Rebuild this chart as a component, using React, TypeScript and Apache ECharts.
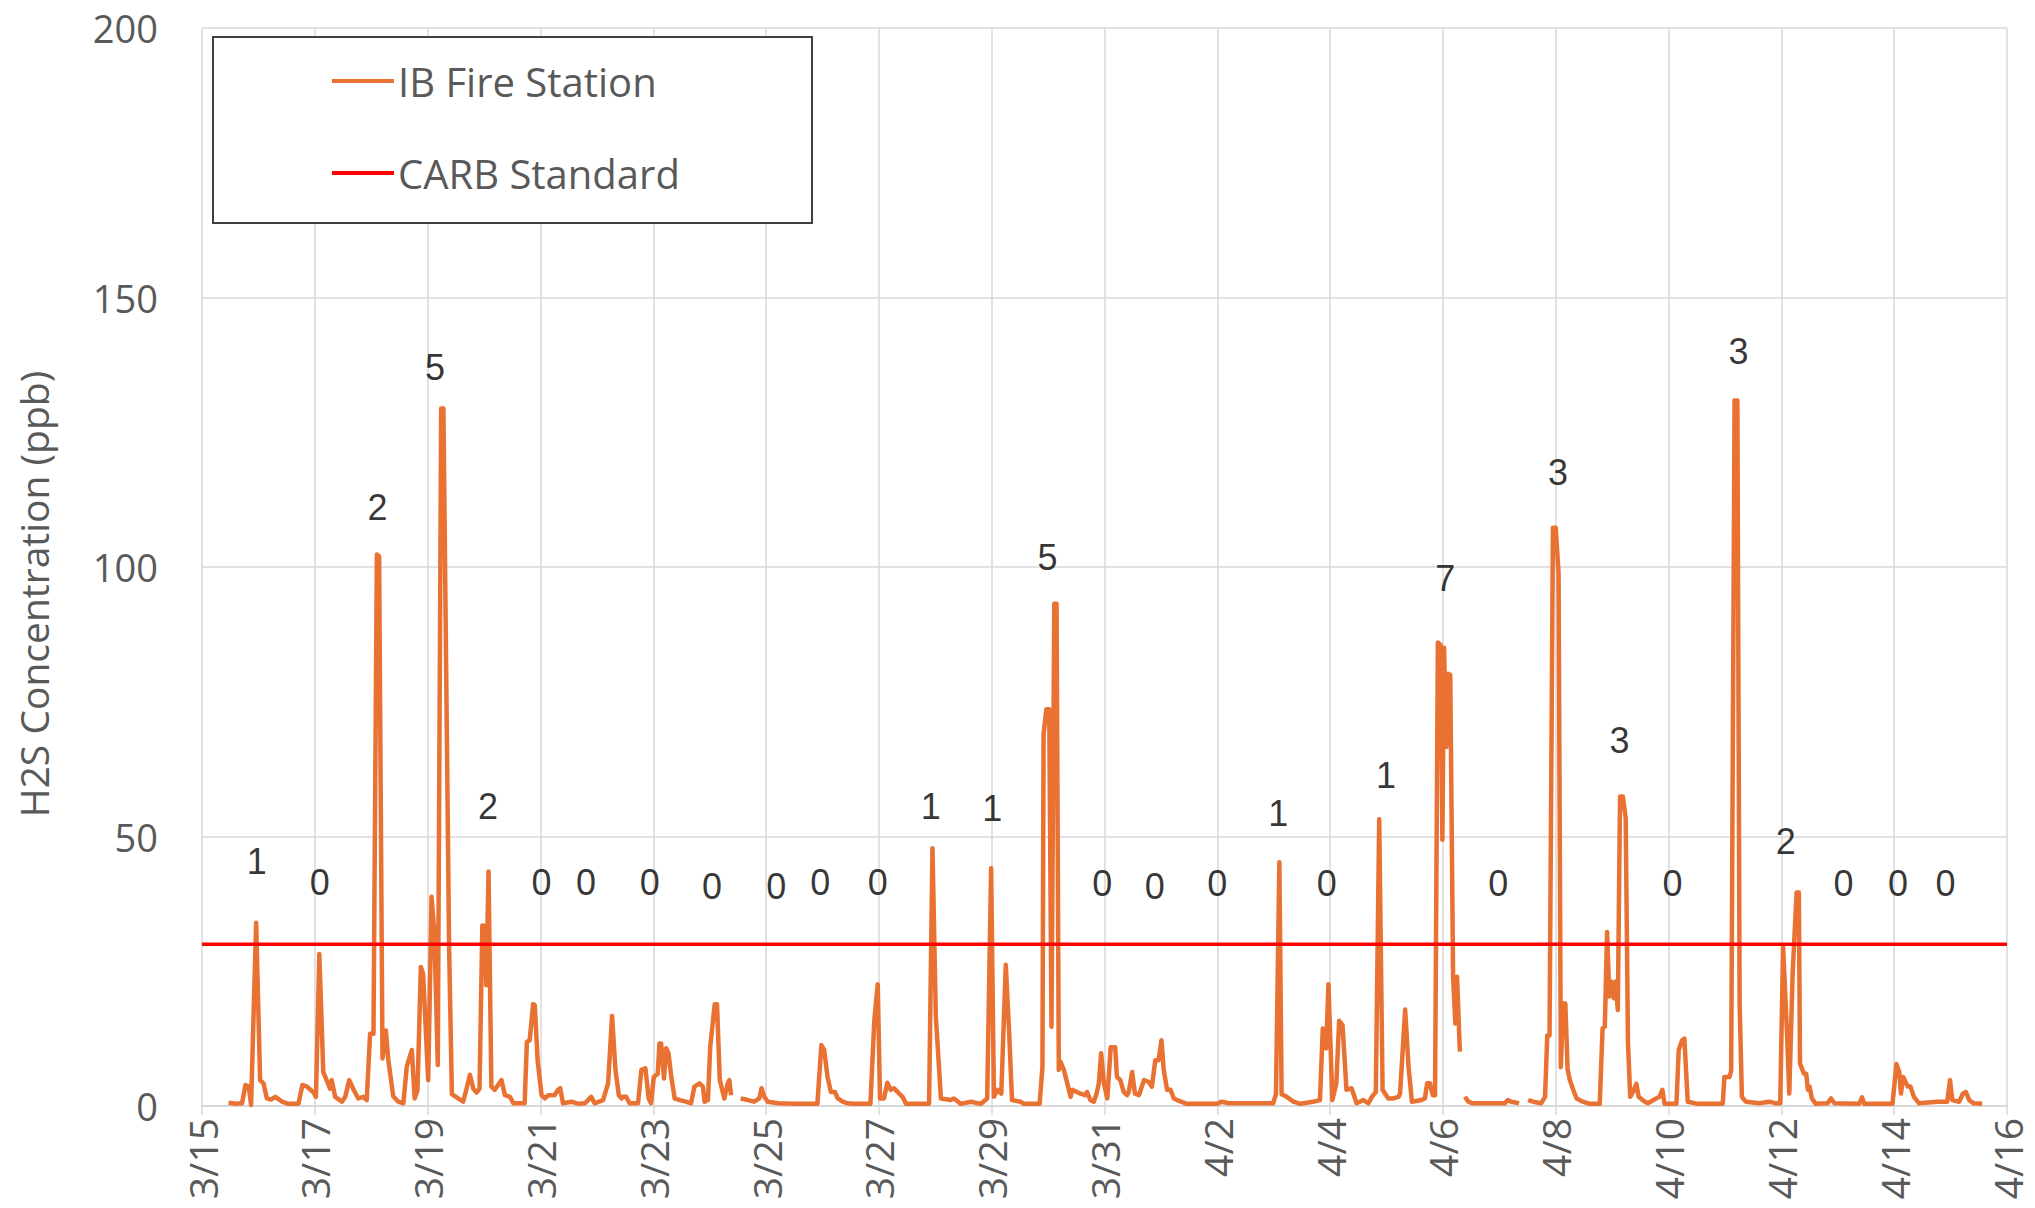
import React, { useEffect, useRef } from 'react';
import * as echarts from 'echarts';

// x values are days since 3/15 00:00
const dateLabels = ['3/15', '3/17', '3/19', '3/21', '3/23', '3/25', '3/27', '3/29', '3/31', '4/2', '4/4', '4/6', '4/8', '4/10', '4/12', '4/14', '4/16'];
const yTicks = [0, 50, 100, 150, 200];

// IB Fire Station H2S (ppb), [day, ppb]
const segment1 = [
  [0.47, 0.6], [0.6, 0.4], [0.71, 0.5], [0.77, 3.9], [0.83, 3.6], [0.87, 0.2], [0.96, 34.0], [1.03, 4.8], [1.09, 4.2], [1.15, 1.4], [1.22, 1.2], [1.3, 1.7], [1.42, 0.8], [1.53, 0.4], [1.71, 0.4], [1.78, 3.9], [1.86, 3.6], [1.98, 2.5], [2.02, 1.7], [2.08, 28.2], [2.15, 6.3], [2.21, 4.8], [2.27, 3.2], [2.3, 4.8], [2.36, 1.7], [2.48, 0.8], [2.54, 1.7], [2.61, 4.8], [2.68, 3.2], [2.77, 1.4], [2.86, 1.7], [2.92, 1.1], [2.98, 13.4], [3.04, 13.4], [3.1, 102.3], [3.14, 102.0], [3.2, 8.8], [3.26, 14.0], [3.3, 8.8], [3.39, 1.8], [3.48, 0.8], [3.57, 0.5], [3.63, 7.3], [3.72, 10.4], [3.77, 1.4], [3.82, 2.9], [3.88, 25.8], [3.92, 24.5], [4.01, 4.8], [4.07, 38.8], [4.12, 32.0], [4.18, 7.6], [4.24, 129.4], [4.28, 129.4], [4.38, 30.0], [4.43, 2.2], [4.54, 1.4], [4.63, 0.8], [4.69, 3.2], [4.75, 5.8], [4.81, 3.2], [4.87, 2.5], [4.92, 3.2], [4.97, 33.5], [5.01, 33.4], [5.04, 22.4], [5.08, 43.5], [5.13, 3.6], [5.19, 3.0], [5.31, 4.8], [5.37, 2.0], [5.46, 1.7], [5.52, 0.5], [5.72, 0.5], [5.76, 11.9], [5.81, 12.2], [5.87, 18.9], [5.9, 18.7], [5.95, 8.5], [6.02, 2.0], [6.08, 1.4], [6.14, 2.0], [6.25, 2.0], [6.31, 3.0], [6.35, 3.3], [6.4, 0.5], [6.55, 0.8], [6.67, 0.4], [6.79, 0.5], [6.9, 1.7], [6.96, 0.5], [7.11, 1.1], [7.2, 4.2], [7.27, 16.7], [7.33, 6.7], [7.39, 2.0], [7.44, 1.4], [7.46, 1.7], [7.52, 1.7], [7.58, 0.5], [7.73, 0.5], [7.79, 6.7], [7.86, 7.0], [7.92, 1.4], [7.96, 0.5], [8.01, 5.4], [8.08, 6.0], [8.11, 11.6], [8.14, 11.6], [8.19, 5.1], [8.23, 10.7], [8.27, 9.8], [8.32, 5.4], [8.38, 1.4], [8.47, 1.1], [8.58, 0.8], [8.67, 0.5], [8.73, 3.6], [8.82, 4.2], [8.88, 3.6], [8.91, 0.8], [8.97, 1.1], [9.01, 11.0], [9.09, 18.9], [9.13, 18.9], [9.18, 4.8], [9.26, 1.4], [9.32, 4.2], [9.35, 4.8], [9.38, 2.0]
];
const segment2 = [
  [9.55, 1.4], [9.68, 1.1], [9.79, 0.8], [9.88, 1.4], [9.92, 3.3], [9.97, 1.7], [10.03, 0.8], [10.21, 0.5], [10.5, 0.4], [10.91, 0.4], [10.98, 11.3], [11.03, 10.4], [11.09, 5.4], [11.15, 2.6], [11.22, 2.6], [11.27, 1.4], [11.36, 0.8], [11.44, 0.5], [11.56, 0.4], [11.85, 0.4], [11.92, 16.0], [11.98, 22.6], [12.02, 1.4], [12.09, 1.4], [12.15, 4.3], [12.21, 3.0], [12.27, 3.3], [12.36, 2.3], [12.42, 1.7], [12.48, 0.4], [12.89, 0.4], [12.95, 47.8], [13.01, 16.6], [13.1, 1.4], [13.27, 1.1], [13.33, 1.4], [13.45, 0.4], [13.63, 0.8], [13.81, 0.4], [13.92, 1.4], [13.99, 44.1], [14.04, 1.7], [14.1, 3.0], [14.17, 2.3], [14.25, 26.2], [14.31, 13.5], [14.36, 1.1], [14.51, 0.8], [14.57, 0.4], [14.85, 0.4], [14.9, 7.3], [14.92, 69.0], [14.97, 73.6], [15.02, 73.6], [15.06, 14.7], [15.11, 93.2], [15.15, 93.2], [15.19, 6.7], [15.22, 8.2], [15.28, 6.7], [15.34, 4.2], [15.4, 1.7], [15.43, 3.0], [15.51, 2.6], [15.57, 2.3], [15.66, 2.0], [15.69, 2.6], [15.75, 1.1], [15.81, 0.8], [15.86, 2.3], [15.9, 4.2], [15.94, 9.8], [15.99, 4.2], [16.05, 1.4], [16.11, 10.9], [16.19, 10.9], [16.22, 5.4], [16.28, 4.8], [16.34, 2.6], [16.4, 2.0], [16.43, 2.6], [16.49, 6.3], [16.54, 2.3], [16.61, 2.0], [16.7, 4.8], [16.78, 4.5], [16.84, 3.6], [16.9, 8.5], [16.96, 8.5], [17.01, 12.2], [17.05, 6.7], [17.11, 3.0], [17.17, 3.0], [17.23, 1.4], [17.29, 1.1], [17.46, 0.4], [17.99, 0.4], [18.08, 0.8], [18.2, 0.5], [18.99, 0.5], [19.04, 2.2], [19.1, 45.2], [19.14, 2.2], [19.23, 1.7], [19.35, 0.8], [19.47, 0.4], [19.7, 0.8], [19.82, 1.1], [19.87, 14.4], [19.93, 10.7], [19.97, 22.6], [20.04, 1.1], [20.11, 4.2], [20.16, 15.8], [20.22, 15.0], [20.29, 3.0], [20.38, 3.3], [20.47, 0.5], [20.59, 1.1], [20.68, 0.5], [20.74, 1.7], [20.81, 2.6], [20.87, 53.2], [20.93, 3.0], [21.03, 1.4], [21.12, 1.4], [21.21, 1.7], [21.24, 2.3], [21.33, 17.9], [21.39, 7.3], [21.45, 0.8], [21.62, 1.1], [21.68, 1.4], [21.72, 4.2], [21.77, 4.2], [21.82, 2.0], [21.86, 2.0], [21.91, 86.0], [21.96, 85.5], [21.99, 49.4], [22.02, 85.0], [22.06, 66.6], [22.09, 80.2], [22.13, 80.0], [22.18, 24.0], [22.22, 15.3], [22.25, 24.0], [22.3, 10.1]
];
const segment3 = [
  [22.39, 1.7], [22.45, 0.8], [22.53, 0.5], [22.65, 0.5], [22.89, 0.5], [23.1, 0.5], [23.15, 1.1], [23.21, 0.8], [23.35, 0.5]
];
const segment4 = [
  [23.51, 1.1], [23.6, 0.8], [23.74, 0.5], [23.81, 1.7], [23.85, 13.1], [23.89, 13.1], [23.95, 107.3], [24.0, 107.3], [24.05, 98.8], [24.09, 7.2], [24.13, 19.0], [24.17, 19.0], [24.21, 6.8], [24.25, 4.8], [24.31, 3.0], [24.37, 1.4], [24.48, 0.8], [24.6, 0.4], [24.78, 0.4], [24.83, 14.4], [24.87, 14.7], [24.91, 32.3], [24.95, 20.3], [24.98, 23.1], [25.03, 20.0], [25.06, 23.1], [25.1, 17.8], [25.14, 57.4], [25.19, 57.4], [25.24, 53.4], [25.28, 12.0], [25.32, 1.7], [25.37, 2.6], [25.43, 4.1], [25.47, 1.7], [25.54, 1.1], [25.63, 0.5], [25.78, 1.4], [25.84, 1.7], [25.89, 3.0], [25.93, 0.4], [26.14, 0.4], [26.18, 10.4], [26.24, 12.2], [26.28, 12.5], [26.34, 0.8], [26.52, 0.4], [26.96, 0.4], [26.99, 5.4], [27.08, 5.4], [27.11, 6.5], [27.17, 130.9], [27.22, 130.9], [27.26, 19.0], [27.3, 1.7], [27.37, 0.8], [27.61, 0.5], [27.79, 0.8], [27.9, 0.5], [27.98, 0.5], [28.03, 29.6], [28.1, 13.5], [28.14, 2.3], [28.2, 24.6], [28.27, 39.6], [28.31, 39.6], [28.33, 7.9], [28.4, 6.0], [28.44, 6.0], [28.47, 3.0], [28.5, 3.6], [28.54, 1.4], [28.61, 0.4], [28.82, 0.5], [28.88, 1.4], [28.94, 0.5], [29.38, 0.4], [29.43, 1.6], [29.47, 0.4], [29.97, 0.4], [30.04, 7.8], [30.09, 6.3], [30.12, 2.3], [30.16, 5.4], [30.24, 3.6], [30.29, 3.6], [30.35, 1.7], [30.44, 0.5], [30.77, 0.8], [30.94, 0.8], [30.99, 4.8], [31.03, 1.1], [31.15, 0.8], [31.22, 2.3], [31.27, 2.6], [31.33, 1.1], [31.41, 0.5], [31.56, 0.4]
];

const carbStandard = 30;

// exceedance counts written above each day
const annDays = [0.97, 2.09, 3.11, 4.13, 5.07, 6.02, 6.81, 7.94, 9.04, 10.18, 10.96, 11.98, 12.92, 14.01, 14.99, 15.96, 16.89, 18.0, 19.08, 19.94, 20.99, 22.04, 22.98, 24.04, 25.13, 26.07, 27.24, 28.08, 29.1, 30.07, 30.91];
const annPpb = [45.3, 41.4, 111, 137, 55.5, 41.5, 41.5, 41.5, 40.8, 40.8, 41.5, 41.5, 55.5, 55.2, 101.7, 41.3, 40.7, 41.3, 54.3, 41.3, 61.4, 97.8, 41.3, 117.6, 67.9, 41.3, 140, 49, 41.3, 41.3, 41.3];
const annCounts = ['1', '0', '2', '5', '2', '0', '0', '0', '0', '0', '0', '0', '1', '1', '5', '0', '0', '0', '1', '0', '1', '7', '0', '3', '3', '0', '3', '2', '0', '0', '0'];

const GREY = '#595959';
const GRID = '#d9d9d9';
const FONT = "'Open Sans', sans-serif";

export default function App() {
  const ref = useRef<HTMLDivElement>(null);
  useEffect(() => {
    const chart = echarts.init(ref.current!, null, { renderer: 'svg' });
    const gapAfter = (seg: number[][]) => [[seg[seg.length - 1][0] + 0.04, '-']];
    const fireData = [
      ...segment1, ...gapAfter(segment1),
      ...segment2, ...gapAfter(segment2),
      ...segment3, ...gapAfter(segment3),
      ...segment4,
    ];
    const xMax = (dateLabels.length - 1) * 2;
    chart.setOption({
      animation: false,
      backgroundColor: '#ffffff',
      grid: { left: 202, right: 28, top: 28, bottom: 102, containLabel: false },
      graphic: [
        {
          type: 'rect',
          z: 3,
          shape: { x: 213, y: 37, width: 599, height: 186 },
          style: { fill: '#ffffff', stroke: '#404040', lineWidth: 2 },
        },
      ],
      legend: {
        data: ['IB Fire Station', 'CARB Standard'],
        orient: 'vertical',
        left: 327,
        top: 56,
        itemGap: 52,
        itemWidth: 62,
        itemHeight: 4,
        icon: 'rect',
        z: 5,
        textStyle: { fontSize: 40, color: GREY, fontFamily: FONT, padding: [0, 0, 0, -1] },
      },
      xAxis: {
        type: 'value',
        min: 0,
        max: xMax,
        interval: 2,
        axisLine: { show: true, lineStyle: { color: GRID, width: 2 } },
        axisTick: { show: true, length: 9, lineStyle: { color: GRID, width: 1.5 } },
        splitLine: { show: true, lineStyle: { color: GRID, width: 1.5 } },
        axisLabel: {
          rotate: 90,
          margin: 12,
          fontSize: 39,
          lineHeight: 39,
          color: GREY,
          fontFamily: FONT,
          formatter: (v: number) => dateLabels[Math.round(v / 2)] ?? '',
        },
      },
      yAxis: {
        type: 'value',
        min: yTicks[0],
        max: yTicks[yTicks.length - 1],
        interval: yTicks[1] - yTicks[0],
        name: 'H2S Concentration (ppb)',
        nameLocation: 'middle',
        nameRotate: 90,
        nameGap: 149,
        nameTextStyle: { fontSize: 39, color: GREY, fontFamily: FONT, padding: [0, 54, 0, 0] },
        axisLine: { show: false },
        axisTick: { show: false },
        splitLine: { show: true, lineStyle: { color: GRID, width: 1.5 } },
        axisLabel: { margin: 44, fontSize: 38, color: GREY, fontFamily: FONT },
      },
      series: [
        {
          name: 'IB Fire Station',
          type: 'line',
          data: fireData,
          showSymbol: false,
          symbol: 'none',
          connectNulls: false,
          color: '#E97132',
          lineStyle: { width: 4.5, color: '#E97132', join: 'round' },
          z: 2,
        },
        {
          name: 'CARB Standard',
          type: 'line',
          data: [[0, carbStandard], [xMax, carbStandard]],
          showSymbol: false,
          symbol: 'none',
          color: '#FF0000',
          lineStyle: { width: 3.5, color: '#FF0000' },
          z: 3,
        },
        {
          name: 'counts',
          type: 'scatter',
          data: annDays.map((d, i) => [d, annPpb[i]]),
          symbolSize: 1,
          itemStyle: { color: 'rgba(0,0,0,0)' },
          label: {
            show: true,
            position: 'inside',
            formatter: (p: any) => annCounts[p.dataIndex],
            fontSize: 36,
            color: '#000000',
            fontFamily: "'Liberation Sans', Arial, sans-serif",
          },
          z: 4,
        },
      ],
    });
    return () => chart.dispose();
  }, []);
  return <div ref={ref} style={{ position: 'fixed', left: 0, top: 0, width: 2035, height: 1208 }} />;
}
